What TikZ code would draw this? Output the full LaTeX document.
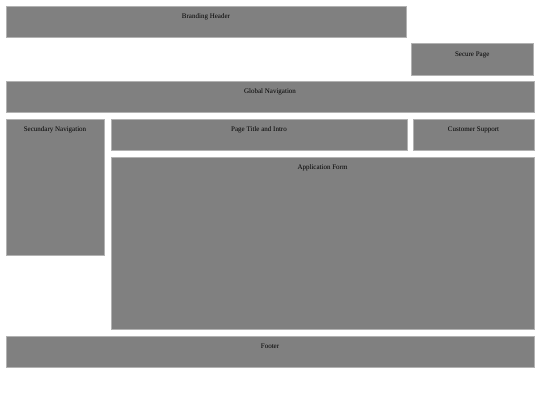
\documentclass[tikz,border=0pt]{standalone}
\usepackage{fontspec}
\setmainfont{Liberation Serif}
\begin{document}
\begin{tikzpicture}[x=1pt,y=-1pt,
  region/.style={fill=black!50,draw=black!30,line width=0.7pt},
  lbl/.style={font=\fontsize{7}{8}\selectfont,anchor=base,inner sep=0pt,text=black}]
\useasboundingbox (0,0) rectangle (540,405);
\newcommand{\region}[6]{%
  \draw[region] (#2,#3) rectangle (#4,#5);
  \node[lbl] (#1) at ({(#2+#4)/2},#3+12.5) {#6};}
\region{brand}{6}{6}{406}{37.5}{Branding Header}
\region{secure}{411}{43.5}{533.5}{75}{Secure Page}
\region{gnav}{6}{81}{534}{112.5}{Global Navigation}
\region{snav}{6}{119}{104}{255.5}{Secundary Navigation}
\region{title}{111}{119}{407}{150.5}{Page Title and Intro}
\region{support}{413}{119}{534}{150.5}{Customer Support}
\region{form}{111}{157}{534}{329.5}{Application Form}
\region{footer}{6}{336}{534}{367}{Footer}
\end{tikzpicture}
\end{document}
